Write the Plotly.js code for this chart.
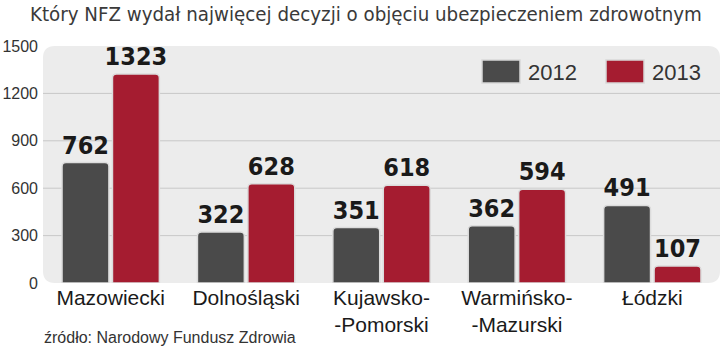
<!DOCTYPE html>
<html><head><meta charset="utf-8">
<script src="https://cdn.plot.ly/plotly-3.0.1.min.js"></script>
<style>html,body{margin:0;padding:0;background:#fff}#c{width:720px;height:351px}</style>
</head><body><div id="c"></div>
<script>
const categories = ["Mazowiecki", "Dolnośląski", "Kujawsko-<br>-Pomorski", "Warmińsko-<br>-Mazurski", "Łódzki"];
const values2012 = [762, 322, 351, 362, 491];
const values2013 = [1323, 628, 618, 594, 107];
const yTicks = [0, 300, 600, 900, 1200, 1500];
const gridVals = [300, 600, 900, 1200];
const seriesNames = ["2012", "2013"];
const colors = ["#4a4a4a", "#a51c30"];

const labelFont = {family: "DejaVu Sans Condensed, Liberation Sans Narrow, sans-serif", size: 25, color: "#1a1a1a", weight: 700};
function bar(vals, i) {
  return {
    type: "bar", x: categories, y: vals, name: seriesNames[i],
    marker: {color: colors[i], cornerradius: 4, line: {color: "#dcdcdc", width: 1.5}},
    text: vals.map(String), textposition: "outside", cliponaxis: false, constraintext: "none",
    textfont: labelFont, showlegend: false, hoverinfo: "none"
  };
}
const W = 677, H = 237, r = 12;
const rx = r / W, ry = r / H;
const bgPath = `M ${rx},0 L ${1-rx},0 Q 1,0 1,${ry} L 1,${1-ry} Q 1,1 ${1-rx},1 L ${rx},1 Q 0,1 0,${1-ry} L 0,${ry} Q 0,0 ${rx},0 Z`;
const shapes = [{type: "path", xref: "paper", yref: "paper", path: bgPath, fillcolor: "#ececec", line: {width: 0}, layer: "below"}];
gridVals.forEach(v => shapes.push({type: "line", xref: "paper", yref: "y", x0: 0, x1: 1, y0: v, y1: v, line: {color: "#c8c8c8", width: 1}, layer: "below"}));
const legX = [482, 606];
const annotations = [];
seriesNames.forEach((n, i) => {
  shapes.push({type: "rect", xref: "paper", yref: "paper",
    x0: (legX[i] - 43) / W, x1: (legX[i] + 38 - 43) / W,
    y0: 1 - (83 - 46) / H, y1: 1 - (60 - 46) / H,
    fillcolor: colors[i], line: {color: "#d8d8d8", width: 1.5}});
  annotations.push({xref: "paper", yref: "paper", x: (legX[i] + 44 - 43) / W, y: 1 - (72 - 46) / H,
    xanchor: "left", yanchor: "middle", showarrow: false, text: n,
    font: {family: "Liberation Sans, Arial, sans-serif", size: 22, color: "#333"}});
});
annotations.push({xref: "paper", yref: "paper", x: -1/W, y: 1 + (46 - 337) / H, xanchor: "left", yanchor: "middle",
  showarrow: false, text: "źródło: Narodowy Fundusz Zdrowia",
  font: {family: "Liberation Sans, Arial, sans-serif", size: 16, color: "#333"}});

const layout = {
  width: 720, height: 351,
  margin: {l: 43, r: 0, t: 46, b: 68},
  paper_bgcolor: "#fff", plot_bgcolor: "rgba(0,0,0,0)",
  title: {text: "Który NFZ wydał najwięcej decyzji o objęciu ubezpieczeniem zdrowotnym",
    x: 30/720, xanchor: "left", y: 1 - 14/351, yanchor: "middle",
    font: {family: "DejaVu Sans Condensed, Liberation Sans Narrow, sans-serif", size: 20.3, color: "#3a3a3a"}},
  barmode: "group", bargap: 0.255, bargroupgap: 0.07,
  xaxis: {showgrid: false, zeroline: false, showline: false, ticks: "", fixedrange: true,
    tickfont: {family: "Liberation Sans, Arial, sans-serif", size: 21, color: "#1a1a1a"}},
  yaxis: {range: [0, 1500], tickvals: yTicks, showgrid: false, zeroline: false, showline: false,
    ticks: "", ticklabelstandoff: 4,
    tickfont: {family: "Liberation Sans, Arial, sans-serif", size: 16, color: "#333"}},
  shapes: shapes, annotations: annotations, showlegend: false
};
Plotly.newPlot("c", [bar(values2012, 0), bar(values2013, 1)], layout, {staticPlot: true});
</script></body></html>
